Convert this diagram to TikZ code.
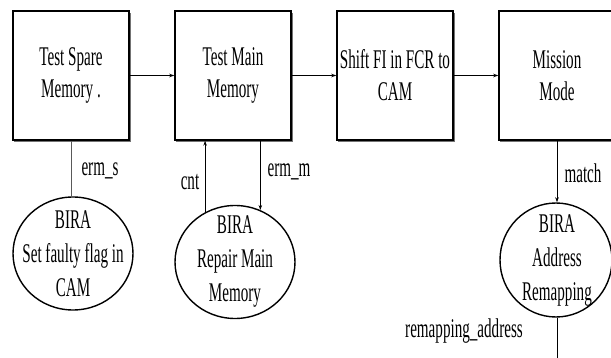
\documentclass[tikz,border=0pt]{standalone}
\usepackage{fontspec}
\setmainfont{Liberation Serif}[FakeStretch=0.56]
\usetikzlibrary{arrows.meta,shapes.geometric}

\begin{document}
\begin{tikzpicture}[x=1pt,y=-1pt,
  stepbox/.style={draw, line width=1.5pt, minimum width=116pt, minimum height=129pt,
    inner sep=0pt, align=center, font=\fontsize{27}{32}\selectfont},
  birashape/.style={ellipse, draw, line width=1.4pt, inner sep=0pt},
  biratext/.style={align=center, inner sep=0pt, font=\fontsize{27}{34}\selectfont},
  flow/.style={-{Stealth[length=5pt,width=3.5pt]}, line width=0.9pt},
  sig/.style={line width=0.8pt, black!65},
  lbl/.style={font=\fontsize{27}{30}\selectfont, inner sep=0pt}]

\useasboundingbox (0,0) rectangle (611,358);
\clip (0,0) rectangle (611,358);

% flow steps, each with a faint lower shadow edge
\foreach \cx in {71,233,395,557}
  \draw[black!55, line width=1pt] (\cx-57,141.2) -- (\cx+59,141.2) -- (\cx+59,13);
\node[stepbox] (b1) at (71,75.5)  {Test Spare\\Memory .};
\node[stepbox] (b2) at (233,75.5) {Test Main\\Memory};
\node[stepbox] (b3) at (395,75.5) {Shift FI in FCR to\\CAM};
\node[stepbox] (b4) at (557,75.5) {Mission\\Mode};

% BIRA operations
\node[birashape, minimum width=120pt, minimum height=113pt] (e1) at (73,253.5) {};
\node[biratext] (t1) at (e1) {BIRA\\Set faulty flag in\\CAM};
\node[birashape, minimum width=120pt, minimum height=113pt] (e2) at (235,262) {};
\node[biratext] (t2) at (e2) {BIRA\\Repair Main\\Memory};
\node[birashape, minimum width=112pt, minimum height=114pt] (e3) at (556,260) {};
\node[biratext] (t3) at (557,261) {BIRA\\Address\\Remapping};

% main flow
\draw[flow] (b1.east) -- (b2.west);
\draw[flow] (b2.east) -- (b3.west);
\draw[flow] (b3.east) -- (b4.west);

% signals
\draw[sig] (b1.south) -- (b1.south |- e1.north);
\node[lbl] (lerms) at (100,171) {erm\_s};

\draw[flow] (e2.121.5) -- (e2.121.5 |- b2.south);
\node[lbl] (lcnt) at (190,182) {cnt};

\draw[flow] (b2.south -| e2.64) -- (e2.64);
\node[lbl] (lermm) at (289,172) {erm\_m};

\draw[flow] (b4.south) -- (b4.south |- e3.north);
\node[lbl] (lmatch) at (583,173) {match};

\coordinate (tail) at (557,358);
\draw[line width=0.9pt] (e3.south -| tail) -- (tail);
\node[lbl] (lremap) at (464,331) {remapping\_address};
\end{tikzpicture}
\end{document}
